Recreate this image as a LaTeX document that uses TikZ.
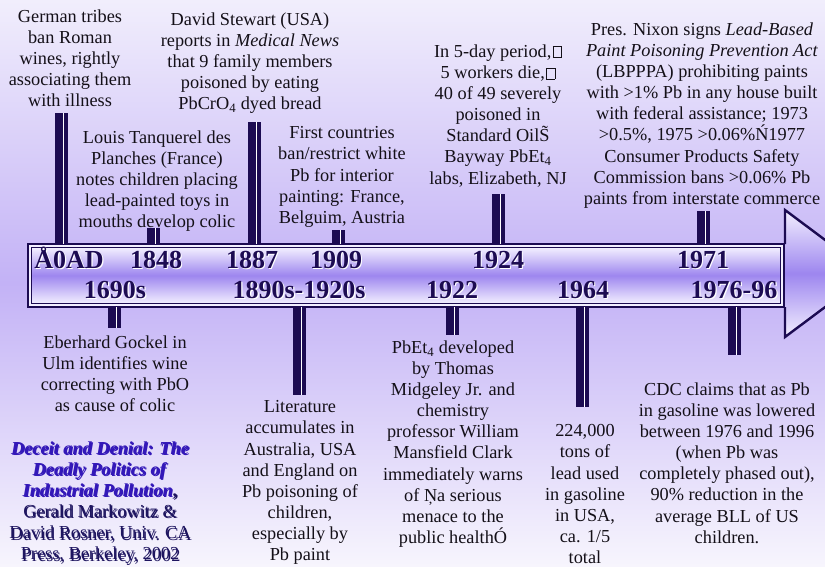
\documentclass[tikz,border=0pt]{standalone}
\usepackage{fontspec}
\setmainfont{Liberation Serif}
\definecolor{ink}{HTML}{1C0B52}
\definecolor{bgtop}{HTML}{F1EEFC}
\definecolor{bgmid}{HTML}{C3B2F6}
\definecolor{bgbot}{HTML}{F7F5FD}
\definecolor{barlight}{HTML}{F3EFFF}
\definecolor{barmid}{HTML}{9D86EF}
\definecolor{txt}{HTML}{141018}
\definecolor{booktitle}{HTML}{3318B8}
\definecolor{bookshadow}{HTML}{8F7DF0}
\definecolor{bookink}{HTML}{1E1560}
\newcommand\shd[2]{\makebox[0pt][l]{\hspace{1.2pt}\raisebox{-1.2pt}{\textcolor{#1}{#2}}}#2}
\newcommand\misbox{\hspace{1.5pt}{\setlength{\fboxsep}{0pt}\setlength{\fboxrule}{0.5pt}\fbox{\rule{0pt}{10.5pt}\hspace{8pt}}}}
\newcommand\stemat[3]{\fill[ink] (#1,#2) rectangle ({#1+12.5},#3); \fill[white] ({#1+7.5},#2) rectangle ({#1+9},#3);}
\tikzset{
  body/.style={font=\fontsize{18.3}{21.1}\selectfont, align=center, anchor=north, inner sep=0pt, text=txt},
  datelabel/.style={font=\fontsize{26}{26}\selectfont\bfseries, anchor=base, inner sep=0pt, text=ink},
  barouter/.style={draw=ink, line width=2.2pt, fill=barlight},
  barinner/.style={draw=ink, line width=0.8pt, top color=barlight, bottom color=barlight, middle color=barmid},
}
\begin{document}
\begin{tikzpicture}[x=1pt,y=-1pt]
\useasboundingbox (0,0) rectangle (825,566);
\clip (0,0) rectangle (825,566);
\shade[top color=bgtop, bottom color=bgbot, middle color=bgmid] (0,0) rectangle (825,566);

% arrow head
\shade[top color=barlight, bottom color=barlight, middle color=barmid] (785,210) -- (870,273.5) -- (785,337) -- cycle;
\draw[ink, line width=2.4pt, line join=miter] (785,244) -- (785,210) -- (870,273.5) -- (785,337) -- (785,307);
% bar
\path[barouter] (28,244) rectangle (784,307);
\path[barinner] (31.5,247.5) rectangle (780.5,303.5);

% stems
\stemat{55}{113}{244}
\stemat{147}{228}{244}
\stemat{248}{122}{244}
\stemat{332}{230}{244}
\stemat{492}{194}{244}
\stemat{697}{211}{244}
\stemat{108}{307}{328}
\stemat{293}{307}{395}
\stemat{446}{307}{335}
\stemat{576}{307}{407}
\stemat{728}{307}{355}

% dates
\node[datelabel] (d0)    at (69,268)  {\shd{white}{Å0AD}};
\node[datelabel] (d1848) at (156,268) {\shd{white}{1848}};
\node[datelabel] (d1887) at (252,268) {\shd{white}{1887}};
\node[datelabel] (d1909) at (336,268) {\shd{white}{1909}};
\node[datelabel] (d1924) at (498,268) {\shd{white}{1924}};
\node[datelabel] (d1971) at (703,268) {\shd{white}{1971}};
\node[datelabel] (d1690) at (115,298) {\shd{white}{1690s}};
\node[datelabel] (d1890) at (299,298) {\shd{white}{1890s-1920s}};
\node[datelabel] (d1922) at (452,298) {\shd{white}{1922}};
\node[datelabel] (d1964) at (583,298) {\shd{white}{1964}};
\node[datelabel] (d1976) at (734,298) {\shd{white}{1976-96}};

% top texts
\node[body] (tA) at (70,9.2) {German tribes\\ban Roman\\wines, rightly\\associating them\\with illness};
\node[body] (tB) at (250,12.5) {David Stewart (USA)\\reports in \textit{Medical News}\\that 9 family members\\poisoned by eating\\PbCrO\textsubscript{4} dyed bread};
\node[body] (tC) at (157,130.5) {Louis Tanquerel des\\Planches (France)\\notes children placing\\lead-painted toys in\\mouths develop colic};
\node[body] (tD) at (342,126.5) {First countries\\ban/restrict white\\Pb for interior\\painting: France,\\Belguim, Austria};
\node[body] (tE) at (498,44.5) {In 5-day period,\misbox\\5 workers die,\misbox\\40 of 49 severely\\poisoned in\\Standard Oil\~{S}\\Bayway PbEt\textsubscript{4}\\labs, Elizabeth, NJ};
\node[body] (tF) at (702,22.5) {Pres. Nixon signs \textit{Lead-Based}\\\textit{Paint Poisoning Prevention Act}\\(LBPPPA) prohibiting paints\\with >1\% Pb in any house built\\with federal assistance; 1973\\>0.5\%, 1975 >0.06\%Ń1977\\Consumer Products Safety\\Commission bans >0.06\% Pb\\paints from interstate commerce};

% bottom texts
\node[body] (tG) at (115,335.5) {Eberhard Gockel in\\Ulm identifies wine\\correcting with PbO\\as cause of colic};
\node[body] (tH) at (100,441.5) {\shd{bookshadow}{\textcolor{booktitle}{\textbf{\textit{Deceit and Denial: The}}}}\\\shd{bookshadow}{\textcolor{booktitle}{\textbf{\textit{Deadly Politics of}}}}\\\shd{bookshadow}{\textcolor{booktitle}{\textbf{\textit{Industrial Pollution}}}\textcolor{bookink}{\textbf{,}}}\\\shd{bookshadow}{\textcolor{bookink}{Gerald Markowitz \&}}\\\shd{bookshadow}{\textcolor{bookink}{David Rosner, Univ. CA}}\\\shd{bookshadow}{\textcolor{bookink}{Press, Berkeley, 2002}}};
\node[body] (tI) at (300,400.5) {Literature\\accumulates in\\Australia, USA\\and England on\\Pb poisoning of\\children,\\especially by\\Pb paint};
\node[body] (tJ) at (453,340.5) {PbEt\textsubscript{4} developed\\by Thomas\\Midgeley Jr. and\\chemistry\\professor William\\Mansfield Clark\\immediately warns\\of Ņa serious\\menace to the\\public healthÓ};
\node[body] (tK) at (585,424.5) {224,000\\tons of\\lead used\\in gasoline\\in USA,\\ca. 1/5\\total};
\node[body] (tL) at (727,382.5) {CDC claims that as Pb\\in gasoline was lowered\\between 1976 and 1996\\(when Pb was\\completely phased out),\\90\% reduction in the\\average BLL of US\\children.};
\end{tikzpicture}
\end{document}
